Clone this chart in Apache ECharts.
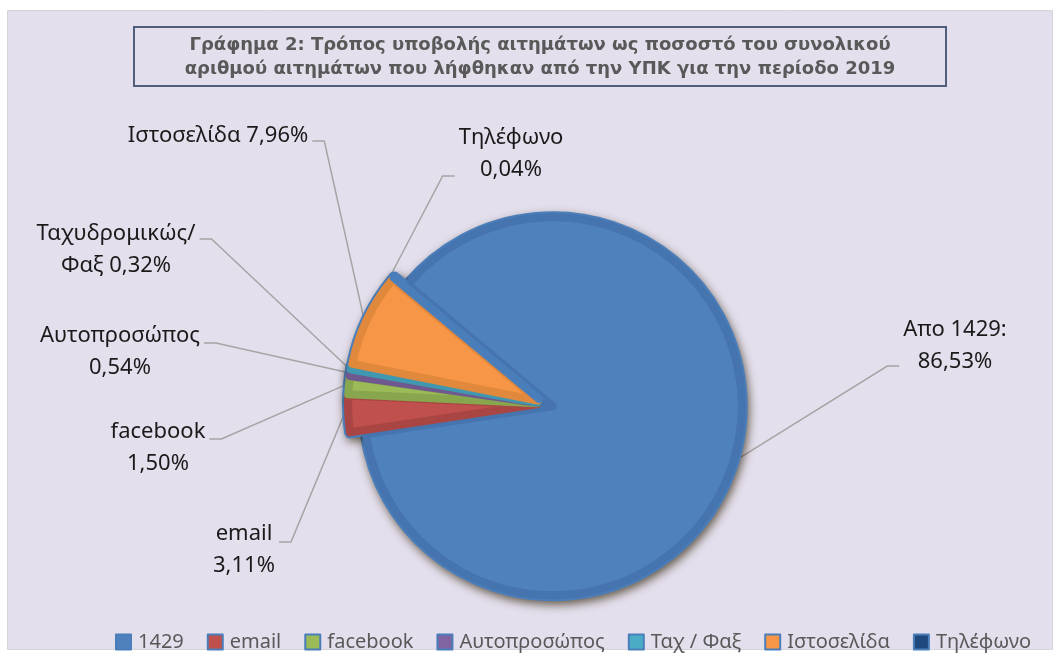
<!DOCTYPE html>
<html lang="el">
<head>
    <meta charset="UTF-8">
    <title>Γράφημα 2</title>
    <style>
        *{
            margin: 0;
            padding: 0;
        }
        body{
            background: #FFFFFF;
        }
        #main{
            width: 1060px;
            height: 656px;
        }
    </style>
</head>
<body>
<div id="main"></div>
<script src="https://cdn.jsdelivr.net/npm/echarts@6.0.0/dist/echarts.min.js"></script>
<script>
    // data
    const names = ['1429', 'email', 'facebook', 'Αυτοπροσώπος', 'Ταχ / Φαξ', 'Ιστοσελίδα', 'Τηλέφωνο'];
    const values = [86.53, 3.11, 1.50, 0.54, 0.32, 7.96, 0.04];
    const labelHeads = ['Απο 1429:\n', 'email\n', 'facebook\n', 'Αυτοπροσώπος\n', 'Ταχυδρομικώς/\nΦαξ ', 'Ιστοσελίδα ', 'Τηλέφωνο\n'];
    const titleText = 'Γράφημα 2: Τρόπος υποβολής αιτημάτων ως ποσοστό του συνολικού\nαριθμού αιτημάτων που λήφθηκαν από την ΥΠΚ για την περίοδο 2019';

    // styles
    const fills = ['#4F81BD', '#C0504D', '#9BBB59', '#8064A2', '#4BACC6', '#F79646', '#1F497D'];
    const bands = ['#4674AF', '#A94643', '#88A64D', '#6F5890', '#3F98AF', '#E0883C', '#4A7EBB'];
    const edge = '#4A7EBB';
    // label centre x, centre y, leader attach dy (px)
    const labelPos = [[955, 346, 20], [244, 550, -8], [158, 448, -9], [120, 352, -9], [116, 250, -11], [218, 136, 5], [511, 154, 22]];
    const font = '"Noto Sans"';
    const pieCenter = [545, 404];
    const pieR = 189;
    const explode = 8;

    let myChart = echarts.init(document.getElementById('main'));

    function pct(v){
        return v.toFixed(2).replace('.', ',') + '%';
    }

    function pieData(top){
        return values.map(function(v, i){
            let st = top
                ? {color: fills[i], borderColor: bands[i], borderWidth: 8, borderJoin: 'round'}
                : {color: bands[i], borderColor: edge, borderWidth: 12, borderJoin: 'round',
                   shadowBlur: 10, shadowOffsetY: 4, shadowOffsetX: 2, shadowColor: 'rgba(40,30,0,0.55)'};
            return {name: names[i], value: v, selected: true, itemStyle: st, select: {itemStyle: st}};
        });
    }

    let common = {
        type: 'pie',
        radius: pieR,
        center: pieCenter,
        startAngle: 140,
        clockwise: true,
        selectedMode: 'multiple',
        selectedOffset: explode,
        avoidLabelOverlap: false,
        animation: false,
        emphasis: {scale: false},
        label: {show: false},
        labelLine: {show: false}
    };

    myChart.setOption({
        backgroundColor: '#FFFFFF',
        graphic: [
            {
                type: 'rect', z: -10,
                shape: {x: 7.5, y: 10.5, width: 1045, height: 639},
                style: {fill: '#E4DFEC', stroke: '#D6D3DA', lineWidth: 1}
            },
            {
                type: 'rect', z: -5,
                shape: {x: 134, y: 27, width: 812, height: 59},
                style: {fill: '#E4DFEC', stroke: '#4F5E7A', lineWidth: 2}
            },
            {
                type: 'text', z: -4,
                x: 540, y: 57,
                style: {
                    text: titleText, align: 'center', verticalAlign: 'middle',
                    fontFamily: '"DejaVu Sans"', fontWeight: 'bold', fontSize: 18,
                    lineHeight: 24, fill: '#595959'
                }
            }
        ],
        legend: {
            data: names.map(function(n, i){
                return {name: n, itemStyle: {color: fills[i], borderColor: edge, borderWidth: 2}};
            }),
            left: 110,
            top: 627,
            icon: 'rect',
            itemWidth: 15,
            itemHeight: 15,
            itemGap: 23,
            selectedMode: false,
            textStyle: {fontFamily: font, fontSize: 20, color: '#595959', padding: [0, 0, 0, 2]}
        },
        series: [
            Object.assign({}, common, {name: 'base', data: pieData(false)}),
            Object.assign({}, common, {name: 'top', data: pieData(true)}),
            // labels only, on an un-exploded invisible copy
            Object.assign({}, common, {
                name: 'labels',
                silent: true,
                selectedMode: false,
                data: values.map(function(v, i){
                    return {name: names[i], value: v, itemStyle: {color: 'rgba(0,0,0,0)', borderWidth: 0}};
                }),
                label: {
                    show: true,
                    position: 'outside',
                    formatter: function(p){
                        return labelHeads[p.dataIndex] + pct(p.value);
                    },
                    fontFamily: font,
                    fontSize: 22,
                    lineHeight: 32,
                    color: '#1A1A1A'
                },
                labelLine: {
                    show: true,
                    length: 10,
                    length2: 10,
                    lineStyle: {color: '#A5A5A5', width: 1.5}
                },
                labelLayout: function(p){
                    let pos = labelPos[p.dataIndex];
                    let w = p.labelRect.width;
                    let s = p.labelLinePoints[0];
                    let vx = s[0] - pieCenter[0], vy = s[1] - pieCenter[1];
                    let len = Math.sqrt(vx * vx + vy * vy) || 1;
                    let start = [s[0] + vx / len * (explode + 4), s[1] + vy / len * (explode + 4)];
                    let right = start[0] > pos[0];
                    let ex = right ? pos[0] + w / 2 + 4 : pos[0] - w / 2 - 4;
                    let bx = ex + (right ? 12 : -12);
                    let ey = pos[1] + pos[2];
                    return {
                        x: pos[0], y: pos[1], align: 'center', verticalAlign: 'middle',
                        labelLinePoints: [start, [bx, ey], [ex, ey]]
                    };
                }
            })
        ]
    });
</script>
</body>
</html>
